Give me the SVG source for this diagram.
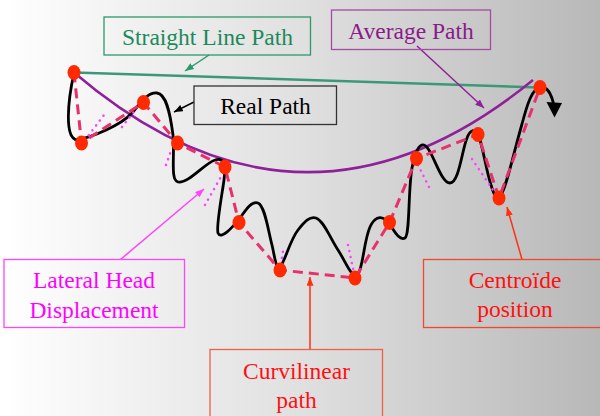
<svg xmlns="http://www.w3.org/2000/svg" width="600" height="416" viewBox="0 0 600 416">
<defs>
<linearGradient id="bg" x1="0" y1="0" x2="1" y2="0">
<stop offset="0" stop-color="#ffffff"/>
<stop offset="0.5" stop-color="#e0e0e0"/>
<stop offset="1" stop-color="#b8b8b8"/>
</linearGradient>
<marker id="ag" viewBox="0 0 10 8" refX="10" refY="4" markerWidth="9" markerHeight="7" markerUnits="userSpaceOnUse" orient="auto"><path d="M0,0 L10,4 L0,8 z" fill="#2a9a6a"/></marker>
<marker id="ap" viewBox="0 0 10 8" refX="10" refY="4" markerWidth="9" markerHeight="7" markerUnits="userSpaceOnUse" orient="auto"><path d="M0,0 L10,4 L0,8 z" fill="#90209a"/></marker>
<marker id="ak" viewBox="0 0 10 8" refX="10" refY="4" markerWidth="9" markerHeight="7" markerUnits="userSpaceOnUse" orient="auto"><path d="M0,0 L10,4 L0,8 z" fill="#000"/></marker>
<marker id="am" viewBox="0 0 10 8" refX="10" refY="4" markerWidth="9" markerHeight="7" markerUnits="userSpaceOnUse" orient="auto"><path d="M0,0 L10,4 L0,8 z" fill="#ff44ff"/></marker>
<marker id="ar" viewBox="0 0 10 8" refX="10" refY="4" markerWidth="9" markerHeight="7" markerUnits="userSpaceOnUse" orient="auto"><path d="M0,0 L10,4 L0,8 z" fill="#ff3010"/></marker>
</defs>
<style>
.lbl{font-family:Liberation Serif,DejaVu Serif,serif;font-size:23.5px;text-anchor:middle}
.box{fill:none;stroke-width:1.3}
.dot{fill:#ff2a00}
.dash{fill:none;stroke:#e8306a;stroke-width:3;stroke-dasharray:10 6}
.lat{fill:none;stroke:#ff40ff;stroke-width:2.5;stroke-dasharray:0.1 6;stroke-linecap:round}
.real{fill:none;stroke:#000;stroke-width:2.8;stroke-linejoin:round}
.conn{fill:none;stroke-width:1.5}
</style>
<rect x="0" y="0" width="600" height="416" fill="url(#bg)"/>

<g id="paths">
<line id="straight-line" x1="74" y1="72.5" x2="540" y2="87.5" stroke="#3a9a78" stroke-width="2.5"/>
<path id="average-path" d="M74,72.5 Q303,268 533,80" fill="none" stroke="#90209a" stroke-width="2.5"/>
<path id="real-path" class="real" d="M74,73 C68,100 64,138 77,140 C92,137 120,126 132,113 C140,104 147,92 157,93 C166,94 170,112 173,135 C175,155 170,180 178,182 C188,184 205,163 215,160 C224,157 226,165 224,180 C222,195 216,226 218,233 C221,240 232,228 240,218 C247,208 252,201 258,203 C265,206 268,230 272,245 C275,258 276,270 280,267 C284,264 290,240 298,230 C305,221 310,216 316,218 C324,221 330,238 338,250 C346,262 352,280 358,274 C363,268 364,240 370,227 C374,218 380,215 386,220 C392,225 398,242 405,238 C410,235 408,190 412,168 C415,152 419,144 424,145 C432,147 440,183 450,183 C459,183 462,150 467,138 C470,130 475,128 478,134 C482,142 486,170 491,185 C494,195 496,199 500,196 C506,190 513,155 522,124 C527,105 532,88 541,87 C548,87 552,96 554,106"/>
<polygon points="546.5,102 562,103 554.5,117.5" fill="#000"/>
<polyline id="curvilinear-path" class="dash" points="74,72.5 81.5,143 143.5,102.5 177.5,143 225,167 239,222.5 280,270 355,278 389.5,222.5 416.5,158.5 478,134.5 499,198 540,87.5"/>
<g id="lateral-displacements">
<line class="lat" x1="85" y1="140" x2="104" y2="115"/>
<line class="lat" x1="122" y1="127" x2="136" y2="109"/>
<line class="lat" x1="166" y1="165" x2="172" y2="148"/>
<line class="lat" x1="205" y1="205" x2="222" y2="175"/>
<line class="lat" x1="280" y1="270" x2="283.5" y2="248"/>
<line class="lat" x1="348" y1="245" x2="354" y2="273"/>
<line class="lat" x1="418" y1="165" x2="429" y2="187"/>
<line class="lat" x1="472" y1="159" x2="495" y2="193"/>
</g>
<g id="centroids">
<ellipse class="dot" cx="74" cy="72.5" rx="6.5" ry="7.5"/>
<ellipse class="dot" cx="81.5" cy="143" rx="6.5" ry="7.5"/>
<ellipse class="dot" cx="143.5" cy="102.5" rx="6.5" ry="7.5"/>
<ellipse class="dot" cx="177.5" cy="143" rx="6.5" ry="7.5"/>
<ellipse class="dot" cx="225" cy="167" rx="6.5" ry="7.5"/>
<ellipse class="dot" cx="239" cy="222.5" rx="6.5" ry="7.5"/>
<ellipse class="dot" cx="280" cy="270" rx="6.5" ry="7.5"/>
<ellipse class="dot" cx="355" cy="278" rx="6.5" ry="7.5"/>
<ellipse class="dot" cx="389.5" cy="222.5" rx="6.5" ry="7.5"/>
<ellipse class="dot" cx="416.5" cy="158.5" rx="6.5" ry="7.5"/>
<ellipse class="dot" cx="478" cy="134.5" rx="6.5" ry="7.5"/>
<ellipse class="dot" cx="499" cy="198" rx="6.5" ry="7.5"/>
<ellipse class="dot" cx="540" cy="87.5" rx="6.5" ry="7.5"/>
</g>
</g>

<g id="connectors">
<line class="conn" x1="209" y1="55" x2="185" y2="71" stroke="#2a9a6a" marker-end="url(#ag)"/>
<line class="conn" x1="417" y1="46" x2="484" y2="108" stroke="#90209a" marker-end="url(#ap)"/>
<line class="conn" x1="194" y1="102" x2="174" y2="112" stroke="#000" marker-end="url(#ak)"/>
<line class="conn" x1="120.5" y1="259.5" x2="204" y2="189" stroke="#ff44ff" marker-end="url(#am)"/>
<line class="conn" x1="310" y1="349.5" x2="310" y2="277" stroke="#ff3010" marker-end="url(#ar)"/>
<line class="conn" x1="522" y1="259.5" x2="507" y2="207" stroke="#ff3010" marker-end="url(#ar)"/>
</g>

<g id="straight-line-label">
<rect class="box" x="104" y="17" width="206.5" height="38" stroke="#2a9a6a"/>
<text class="lbl" x="207.5" y="45" fill="#1a8a5a">Straight Line Path</text>
</g>
<g id="average-path-label">
<rect class="box" x="331.5" y="10" width="159" height="39.5" stroke="#a848a8"/>
<text class="lbl" x="411" y="38.5" fill="#8b1a8b">Average Path</text>
</g>
<g id="real-path-label">
<rect class="box" x="194" y="86" width="142.5" height="38.5" stroke="#333"/>
<text class="lbl" x="265.5" y="114" fill="#000">Real Path</text>
</g>
<g id="lateral-label">
<rect class="box" x="4" y="259.5" width="180.5" height="68" stroke="#ff44ff"/>
<text class="lbl" x="94" y="287.5" fill="#ff00ff">Lateral Head</text>
<text class="lbl" x="94" y="317.5" fill="#ff00ff">Displacement</text>
</g>
<g id="curvilinear-label">
<rect class="box" x="210" y="349.5" width="172.5" height="80" stroke="#f06048"/>
<text class="lbl" x="296.5" y="379" fill="#ff1010">Curvilinear</text>
<text class="lbl" x="296.5" y="407.5" fill="#ff1010">path</text>
</g>
<g id="centroide-label">
<rect class="box" x="423.5" y="259.5" width="190" height="68" stroke="#f04828"/>
<text class="lbl" x="515" y="287.5" fill="#ff1010">Centroïde</text>
<text class="lbl" x="515" y="317" fill="#ff1010">position</text>
</g>
</svg>
